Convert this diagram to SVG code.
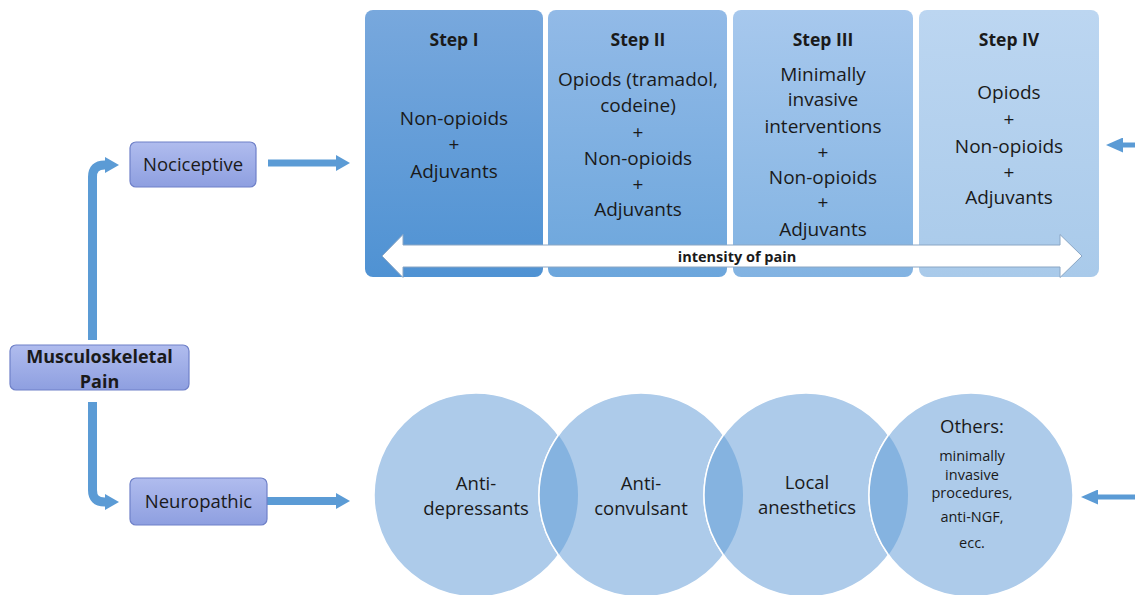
<svg xmlns="http://www.w3.org/2000/svg" width="1135" height="595" viewBox="0 0 1135 595">
<defs>
<linearGradient id="g1" x1="0" y1="0" x2="0" y2="1"><stop offset="0" stop-color="#78a8dd"/><stop offset="1" stop-color="#4f92d3"/></linearGradient>
<linearGradient id="g2" x1="0" y1="0" x2="0" y2="1"><stop offset="0" stop-color="#92bae7"/><stop offset="1" stop-color="#6ca6dc"/></linearGradient>
<linearGradient id="g3" x1="0" y1="0" x2="0" y2="1"><stop offset="0" stop-color="#a7c8ed"/><stop offset="1" stop-color="#82b3e2"/></linearGradient>
<linearGradient id="g4" x1="0" y1="0" x2="0" y2="1"><stop offset="0" stop-color="#bcd6f1"/><stop offset="1" stop-color="#a9caea"/></linearGradient>
<linearGradient id="gb" x1="0" y1="0" x2="0" y2="1"><stop offset="0" stop-color="#b0bcee"/><stop offset="1" stop-color="#8e9fe0"/></linearGradient>
<marker id="ah" markerUnits="userSpaceOnUse" markerWidth="14" markerHeight="16" refX="3" refY="8" orient="auto"><path d="M0,0 L14,8 L0,16 Z" fill="#5b9bd5"/></marker>
<marker id="ahs" markerUnits="userSpaceOnUse" markerWidth="17" markerHeight="15" refX="4" refY="7.5" orient="auto"><path d="M0,0 L17,7.5 L0,15 Z" fill="#5b9bd5"/></marker>
</defs>
<style>
.t{font-family:"Open Sans","Liberation Sans",sans-serif;fill:#1a1a1a;text-anchor:middle}
.s{font-size:19px}
.c{font-size:18.5px}
.b{font-weight:bold;font-size:17.5px}
.sm{font-size:14.5px}
.box{fill:url(#gb);stroke:#6f80c8;stroke-width:1.2}
.conn{fill:none;stroke:#5b9bd5}
.circ{fill:#adcbea;stroke:#ffffff;stroke-width:1.5}
.lens{fill:#85b3e0;stroke:none}
.arc{fill:none;stroke:#ffffff;stroke-width:1.5}
</style>

<g id="connectors">
<path class="conn" stroke-width="9" d="M92.5,340 L92.5,177 Q92.5,165 104.5,165 L108,165" marker-end="url(#ah)"/>
<path class="conn" stroke-width="9" d="M92.5,402 L92.5,490 Q92.5,502 104.5,502 L108,502" marker-end="url(#ah)"/>
<path class="conn" stroke-width="7" d="M268,163 L339,163" marker-end="url(#ah)"/>
<path class="conn" stroke-width="8" d="M267,501 L339,501" marker-end="url(#ah)"/>
<path class="conn" stroke-width="5" d="M1135,145 L1119,145" marker-end="url(#ahs)"/>
<path class="conn" stroke-width="5" d="M1135,497 L1094,497" marker-end="url(#ahs)"/>
</g>

<g id="musculoskeletal">
<rect class="box" x="10" y="345" width="179" height="45" rx="6"/>
<text class="t b" x="99.5" y="363" style="font-size:18px">Musculoskeletal</text>
<text class="t b" x="99.5" y="388" style="font-size:18px">Pain</text>
</g>

<g id="nociceptive">
<rect class="box" x="130" y="142" width="126" height="45" rx="6"/>
<text class="t c" x="193" y="171">Nociceptive</text>
</g>

<g id="neuropathic">
<rect class="box" x="130" y="478" width="137" height="47" rx="6"/>
<text class="t c" x="198.5" y="508">Neuropathic</text>
</g>

<g id="step1">
<rect x="365" y="10" width="178" height="267" rx="8" fill="url(#g1)"/>
<text class="t b" x="454" y="46">Step I</text>
<text class="t s" x="454" y="125">Non-opioids</text>
<text class="t s" x="454" y="151">+</text>
<text class="t s" x="454" y="178">Adjuvants</text>
</g>

<g id="step2">
<rect x="548" y="10" width="179" height="267" rx="8" fill="url(#g2)"/>
<text class="t b" x="638" y="46">Step II</text>
<text class="t s" x="638" y="86">Opiods (tramadol,</text>
<text class="t s" x="638" y="112">codeine)</text>
<text class="t s" x="638" y="139">+</text>
<text class="t s" x="638" y="165">Non-opioids</text>
<text class="t s" x="638" y="191">+</text>
<text class="t s" x="638" y="216">Adjuvants</text>
</g>

<g id="step3">
<rect x="733" y="10" width="180" height="267" rx="8" fill="url(#g3)"/>
<text class="t b" x="823" y="46">Step III</text>
<text class="t s" x="823" y="81">Minimally</text>
<text class="t s" x="823" y="106">invasive</text>
<text class="t s" x="823" y="133">interventions</text>
<text class="t s" x="823" y="159">+</text>
<text class="t s" x="823" y="184">Non-opioids</text>
<text class="t s" x="823" y="209">+</text>
<text class="t s" x="823" y="236">Adjuvants</text>
</g>

<g id="step4">
<rect x="919" y="10" width="180" height="267" rx="8" fill="url(#g4)"/>
<text class="t b" x="1009" y="46">Step IV</text>
<text class="t s" x="1009" y="99">Opiods</text>
<text class="t s" x="1009" y="126">+</text>
<text class="t s" x="1009" y="153">Non-opioids</text>
<text class="t s" x="1009" y="179">+</text>
<text class="t s" x="1009" y="204">Adjuvants</text>
</g>

<g id="intensity">
<path d="M382,256 L403,234.5 L403,245 L1060,245 L1060,234.5 L1082,256 L1060,277.5 L1060,267 L403,267 L403,277.5 Z" fill="#ffffff" stroke="#8aa6c4" stroke-width="1"/>
<text class="t" x="737" y="261.5" style="font-size:14.5px;font-weight:bold">intensity of pain</text>
</g>

<g id="circles">
<circle class="circ" cx="476" cy="495" r="102"/>
<circle class="circ" cx="641" cy="495" r="102"/>
<circle class="circ" cx="806" cy="495" r="102"/>
<circle class="circ" cx="971" cy="495" r="102"/>
<path class="lens" d="M558.5,435 A102,102 0 0 1 558.5,555 A102,102 0 0 1 558.5,435 Z"/>
<path class="lens" d="M723.5,435 A102,102 0 0 1 723.5,555 A102,102 0 0 1 723.5,435 Z"/>
<path class="lens" d="M888.5,435 A102,102 0 0 1 888.5,555 A102,102 0 0 1 888.5,435 Z"/>
<path class="arc" d="M558.5,555 A102,102 0 0 1 558.5,435"/>
<path class="arc" d="M723.5,555 A102,102 0 0 1 723.5,435"/>
<path class="arc" d="M888.5,555 A102,102 0 0 1 888.5,435"/>
</g>

<g id="antidepressants">
<text class="t c" x="476" y="490">Anti-</text>
<text class="t c" x="476" y="515">depressants</text>
</g>
<g id="anticonvulsant">
<text class="t c" x="641" y="490">Anti-</text>
<text class="t c" x="641" y="515">convulsant</text>
</g>
<g id="local">
<text class="t c" x="807" y="489">Local</text>
<text class="t c" x="807" y="514">anesthetics</text>
</g>
<g id="others">
<text class="t c" x="972" y="433">Others:</text>
<text class="t sm" x="972" y="461">minimally</text>
<text class="t sm" x="972" y="480">invasive</text>
<text class="t sm" x="972" y="498">procedures,</text>
<text class="t sm" x="972" y="522">anti-NGF,</text>
<text class="t sm" x="972" y="548">ecc.</text>
</g>
</svg>
